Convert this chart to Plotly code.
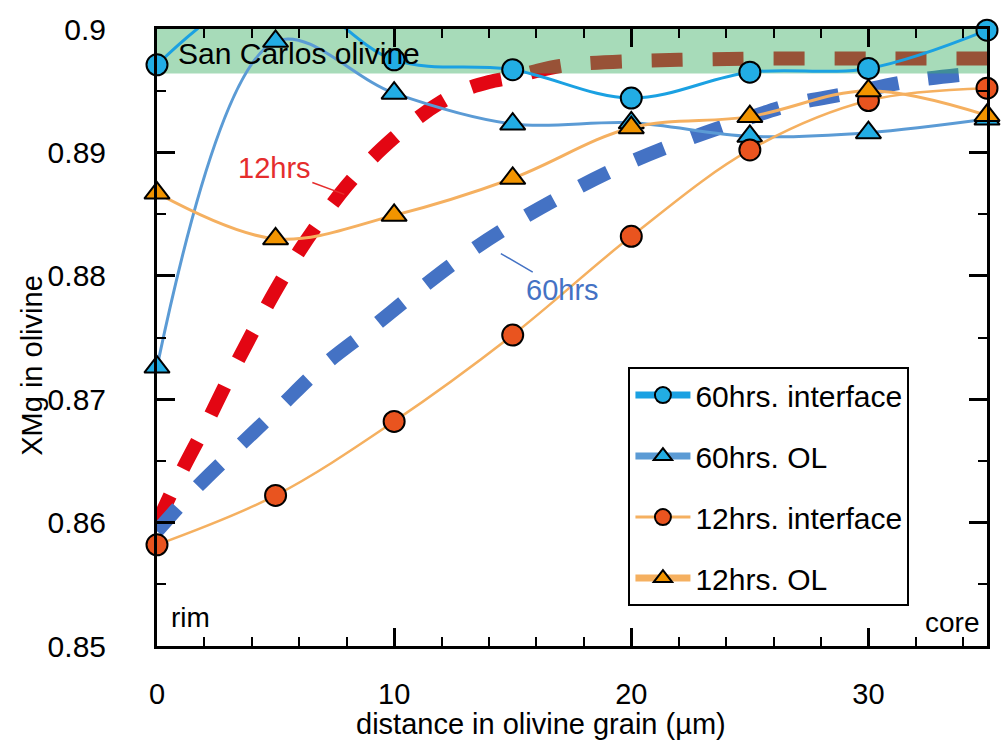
import plotly.graph_objects as go

# ---- measured profiles (distance from rim, µm) ----
DIST = [0, 5, 10, 15, 20, 25, 30, 35]
XMG_60H_INTERFACE = [0.8971, 0.9033, 0.8975, 0.8967, 0.8944, 0.8965, 0.8968, 0.8999]
XMG_60H_OL = [0.8726, 0.8990, 0.8948, 0.8923, 0.8924, 0.8913, 0.8916, 0.8927]
XMG_12H_INTERFACE = [0.8582, 0.8622, 0.8682, 0.8752, 0.8832, 0.8902, 0.8942, 0.8952]
XMG_12H_OL = [0.8867, 0.8830, 0.8849, 0.8879, 0.8920, 0.8929, 0.8950, 0.8930]

# ---- diffusion model curves ----
MODEL_12H_X = [0, 1, 2, 3, 4, 5, 6, 7, 8, 9, 10, 11, 12, 13, 14, 15, 16, 17, 18, 20, 22, 25, 30, 35]
MODEL_12H_Y = [0.8599, 0.8640, 0.8677, 0.8716, 0.8753, 0.8788, 0.8820, 0.8848, 0.8873, 0.8894,
               0.8912, 0.8928, 0.8941, 0.8951, 0.8957, 0.8961, 0.8966, 0.8970, 0.8972, 0.8974,
               0.8975, 0.8976, 0.8976, 0.8976]
MODEL_60H_X = [0, 1.5, 3.3, 5.1, 7, 9, 11, 13, 15, 17.3, 19.6, 22, 24.5, 26.8, 29.2, 31.8, 35]
MODEL_60H_Y = [0.8593, 0.8625, 0.8659, 0.8692, 0.8727, 0.8757, 0.8788, 0.8817, 0.8842, 0.8867,
               0.8889, 0.8908, 0.8925, 0.8939, 0.8948, 0.8958, 0.8965]

# San Carlos olivine composition range
SAN_CARLOS = [0.8964, 0.9]

X_RANGE = [0, 35]
Y_RANGE = [0.85, 0.9]
X_TICKS = [0, 10, 20, 30]
X_TICK_TEXT = ["0", "10", "20", "30"]
Y_TICKS = [0.85, 0.86, 0.87, 0.88, 0.89, 0.9]
Y_TICK_TEXT = ["0.85", "0.86", "0.87", "0.88", "0.89", "0.9"]

FONT = "Arial, Liberation Sans, sans-serif"
CIRCLE_SIZE = 21
TRI_SIZE = 22


def visible_sizes(values, size):
    # points beyond the axis range get no marker
    return [size if Y_RANGE[0] <= v <= Y_RANGE[1] else 0 for v in values]


fig = go.Figure()

# model curves (drawn underneath the San Carlos band)
fig.add_trace(go.Scatter(
    x=MODEL_12H_X, y=MODEL_12H_Y, mode="lines", showlegend=False, hoverinfo="skip",
    line=dict(color="#e30613", width=14, dash="31px,30px", shape="spline", smoothing=1)))
fig.add_trace(go.Scatter(
    x=MODEL_60H_X, y=MODEL_60H_Y, mode="lines", showlegend=False, hoverinfo="skip",
    line=dict(color="#4472c4", width=14, dash="31px,30px", shape="spline", smoothing=1)))

# translucent San Carlos olivine band
fig.add_trace(go.Scatter(
    x=[X_RANGE[0], X_RANGE[1], X_RANGE[1], X_RANGE[0], X_RANGE[0]],
    y=[SAN_CARLOS[0], SAN_CARLOS[0], SAN_CARLOS[1], SAN_CARLOS[1], SAN_CARLOS[0]],
    mode="lines", fill="toself", fillcolor="rgba(60,176,100,0.45)",
    line=dict(width=0), showlegend=False, hoverinfo="skip"))

# name, values, line colour, plot line width, legend line width, symbol, fill, size
series = [
    ("60hrs. interface", XMG_60H_INTERFACE, "#1ba1e2", 3, 7, "circle", "#22ade4", CIRCLE_SIZE),
    ("60hrs. OL", XMG_60H_OL, "#5b9bd5", 3, 7, "triangle-up", "#22ade4", TRI_SIZE),
    ("12hrs. interface", XMG_12H_INTERFACE, "#f5b060", 2.5, 3, "circle", "#e9541f", CIRCLE_SIZE),
    ("12hrs. OL", XMG_12H_OL, "#f5b060", 3, 7, "triangle-up", "#f29400", TRI_SIZE),
]
for i, (name, vals, lcol, lw, lw_leg, sym, fcol, ms) in enumerate(series):
    fig.add_trace(go.Scatter(
        x=DIST, y=vals, name=name, mode="lines+markers", cliponaxis=False,
        showlegend=False, legendgroup=f"g{i}",
        line=dict(color=lcol, width=lw, shape="spline", smoothing=1),
        marker=dict(symbol=sym, size=visible_sizes(vals, ms), color=fcol, opacity=1,
                    line=dict(color="black", width=2))))
    # legend key for the series
    fig.add_trace(go.Scatter(
        x=[None], y=[None], name=name, mode="lines+markers", legendgroup=f"g{i}",
        line=dict(color=lcol, width=lw_leg),
        marker=dict(symbol=sym, size=ms, color=fcol, opacity=1,
                    line=dict(color="black", width=2))))

annotations = [
    dict(x=0.8, y=0.89805, xref="x", yref="y", text="San Carlos olivine", showarrow=False,
         xanchor="left", yanchor="middle", font=dict(size=30, color="black")),
    dict(x=0.5, y=0.8523, xref="x", yref="y", text="rim", showarrow=False,
         xanchor="left", yanchor="middle", font=dict(size=28, color="black")),
    dict(x=34.75, y=0.8519, xref="x", yref="y", text="core", showarrow=False,
         xanchor="right", yanchor="middle", font=dict(size=28, color="black")),
    dict(x=7.9, y=0.8866, xref="x", yref="y", text="12hrs", showarrow=True,
         arrowhead=0, arrowwidth=1.5, arrowcolor="#e52d2d", ax=-70, ay=-26,
         font=dict(size=29, color="#e52d2d")),
    dict(x=14.5, y=0.8818, xref="x", yref="y", text="60hrs", showarrow=True,
         arrowhead=0, arrowwidth=1.5, arrowcolor="#4472c4", ax=62, ay=36,
         font=dict(size=29, color="#4472c4")),
    dict(x=0.463, y=-0.126, xref="paper", yref="paper", text="distance in olivine grain (µm)",
         showarrow=False, xanchor="center", yanchor="middle", font=dict(size=29, color="black")),
    dict(x=-0.150, y=0.455, xref="paper", yref="paper", text="XMg in olivine", textangle=-90,
         showarrow=False, xanchor="center", yanchor="middle", font=dict(size=29, color="black")),
]

fig.update_layout(
    width=1002, height=746,
    margin=dict(l=157, r=12, t=20, b=100),
    paper_bgcolor="white", plot_bgcolor="white",
    font=dict(family=FONT, size=29, color="black"),
    showlegend=True,
    legend=dict(x=0.568, y=0.452, xanchor="left", yanchor="top",
                bgcolor="white", bordercolor="black", borderwidth=2,
                font=dict(size=30), traceorder="grouped", tracegroupgap=19,
                itemwidth=55),
    annotations=annotations,
)

fig.update_xaxes(
    range=X_RANGE, tickmode="array", tickvals=X_TICKS, ticktext=X_TICK_TEXT,
    showline=True, linewidth=3, linecolor="black", mirror="allticks",
    ticks="inside", ticklen=18, tickwidth=2.5, tickcolor="black",
    minor=dict(tickmode="linear", tick0=0, dtick=2, ticks="inside", ticklen=9,
               tickwidth=2, tickcolor="black"),
    showgrid=False, zeroline=False, tickfont=dict(size=29), ticklabelstandoff=20)

fig.update_yaxes(
    range=Y_RANGE, tickmode="array", tickvals=Y_TICKS, ticktext=Y_TICK_TEXT,
    showline=True, linewidth=3, linecolor="black", mirror="allticks",
    ticks="inside", ticklen=18, tickwidth=2.5, tickcolor="black",
    minor=dict(tickmode="linear", tick0=0.85, dtick=0.005, ticks="inside", ticklen=9,
               tickwidth=2, tickcolor="black"),
    showgrid=False, zeroline=False, tickfont=dict(size=30), ticklabelstandoff=42)

fig.write_html("out.html")
